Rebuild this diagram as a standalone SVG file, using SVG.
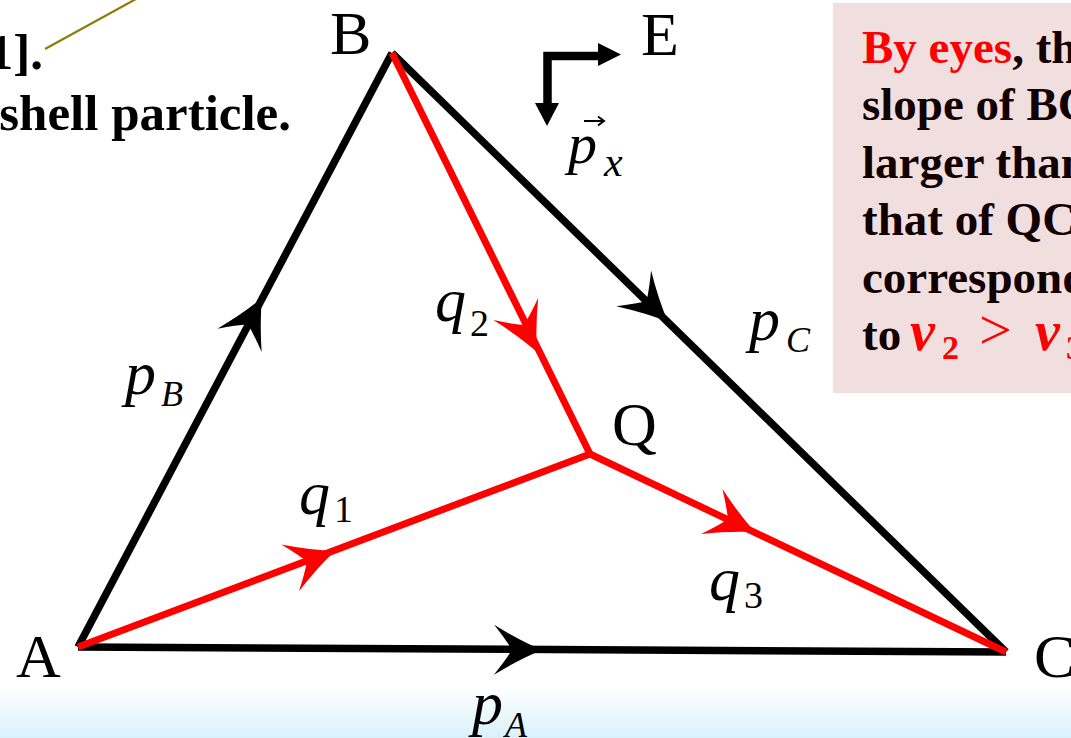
<svg xmlns="http://www.w3.org/2000/svg" width="1071" height="738" viewBox="0 0 1071 738">
  <defs>
    <linearGradient id="bg" x1="0" y1="0" x2="0" y2="1">
      <stop offset="0" stop-color="#ffffff"/>
      <stop offset="1" stop-color="#d9f1fb"/>
    </linearGradient>
    <path id="ah" d="M0,0 Q-22,-9 -48,-25 Q-36,-10 -30,0 Q-36,10 -48,25 Q-22,9 0,0 Z"/>
    <style>
      .lbl { font-family: "Liberation Serif", "Times New Roman", serif; font-size: 62px; fill: #000; }
      .mi { font-family: "Liberation Serif", "Times New Roman", serif; font-style: italic; font-size: 62px; fill: #000; }
      .sub { font-family: "Liberation Serif", "Times New Roman", serif; font-style: italic; font-size: 36px; fill: #000; }
      .subd { font-family: "Liberation Serif", "Times New Roman", serif; font-size: 38px; fill: #000; }
      .bt { font-family: "Liberation Serif", "Times New Roman", serif; font-weight: bold; font-size: 47px; fill: #120000; }
      .cap { font-family: "Liberation Serif", "Times New Roman", serif; font-weight: bold; font-size: 51px; fill: #000; }
      .rv { font-family: "Liberation Serif", "Times New Roman", serif; font-weight: bold; font-style: italic; font-size: 56px; fill: #ff0000; }
      .rs { font-family: "Liberation Serif", "Times New Roman", serif; font-weight: bold; font-size: 34px; fill: #ff0000; }
      .rg { font-family: "Liberation Serif", "Times New Roman", serif; font-size: 58px; fill: #ff0000; }
      .red { fill: #ff0000; }
      .blk { stroke: #000; stroke-width: 7.5; fill: none; }
      .rd { stroke: #ff0000; stroke-width: 7; fill: none; }
    </style>
  </defs>

  <rect x="0" y="0" width="1071" height="738" fill="#ffffff"/>
  <rect x="0" y="686" width="1071" height="52" fill="url(#bg)"/>

  <!-- top-left text fragment and olive leader -->
  <g id="caption">
    <line x1="45" y1="49" x2="136" y2="-1" stroke="#8c7d0a" stroke-width="2.2"/>
    <text class="cap" x="43" y="69" text-anchor="end">1].</text>
    <text class="cap" x="291" y="130" text-anchor="end">shell particle.</text>
  </g>

  <!-- note box -->
  <g id="note">
    <rect x="833" y="3" width="240" height="390" fill="#f1dfe0"/>
    <text class="bt" x="862" y="63"><tspan class="red">By eyes</tspan>, th</text>
    <text class="bt" x="862" y="120">slope of BC</text>
    <text class="bt" x="862" y="178">larger than</text>
    <text class="bt" x="862" y="235">that of QC</text>
    <text class="bt" x="862" y="293">correspond</text>
    <text class="bt" x="862" y="350">to</text>
    <text class="rv" x="910" y="350">v</text>
    <text class="rs" x="942" y="359">2</text>
    <text class="rg" x="979" y="349">&gt;</text>
    <text class="rv" x="1035" y="350">v</text>
    <text class="rs" x="1066" y="359">3</text>
  </g>

  <!-- connectors -->
  <g id="connectors">
    <line class="blk" x1="78" y1="647" x2="392" y2="53"/>
    <line class="blk" x1="392" y1="53" x2="1006" y2="652"/>
    <line class="blk" x1="78" y1="647" x2="1006" y2="652"/>
    <line class="rd" x1="78" y1="647" x2="590" y2="454"/>
    <line class="rd" x1="392" y1="53" x2="590" y2="454"/>
    <line class="rd" x1="590" y1="454" x2="1006" y2="652"/>
    <use href="#ah" transform="translate(542,650) rotate(0.3)" fill="#000"/>
    <use href="#ah" transform="translate(262,298) rotate(-62.1)" fill="#000"/>
    <use href="#ah" transform="translate(668,322) rotate(44.3)" fill="#000"/>
    <use href="#ah" transform="translate(537,352) rotate(63.7)" fill="#ff0000"/>
    <use href="#ah" transform="translate(335,551) rotate(-20.7)" fill="#ff0000"/>
    <use href="#ah" transform="translate(755,532) rotate(25.4)" fill="#ff0000"/>
  </g>

  <!-- vertex labels -->
  <g id="node-A"><text class="lbl" x="16" y="677">A</text></g>
  <g id="node-B"><text class="lbl" x="330" y="54">B</text></g>
  <g id="node-C"><text class="lbl" x="1034" y="677">C</text></g>
  <g id="node-Q"><text class="lbl" x="612" y="445">Q</text></g>
  <g id="node-E"><text class="lbl" x="641" y="55">E</text></g>

  <!-- momentum labels -->
  <g id="label-pB"><text class="mi" x="125" y="394">p</text><text class="sub" x="161" y="406">B</text></g>
  <g id="label-pC"><text class="mi" x="749" y="340">p</text><text class="sub" x="786" y="352">C</text></g>
  <g id="label-pA"><text class="mi" x="472" y="724">p</text><text class="sub" x="505" y="737">A</text></g>
  <g id="label-q1"><text class="mi" x="299" y="514">q</text><text class="subd" x="334" y="522">1</text></g>
  <g id="label-q2"><text class="mi" x="435" y="321">q</text><text class="subd" x="470" y="336">2</text></g>
  <g id="label-q3"><text class="mi" x="709" y="600">q</text><text class="subd" x="744" y="608">3</text></g>

  <!-- axis arrows and p_x -->
  <g id="axes">
    <path d="M547.5,104 L547.5,56 L599,56" fill="none" stroke="#000" stroke-width="8.5"/>
    <polygon points="598,43 621,54.5 598,66" fill="#000"/>
    <polygon points="535,103 559,103 547,126" fill="#000"/>
  </g>
  <g id="label-px">
    <text class="mi" x="568" y="163" style="font-size:58px">p</text>
    <text class="mi" x="604" y="176" style="font-size:42px">x</text>
    <path d="M584,121 L603,121 M598,116.5 L604,121 L598,125.5" fill="none" stroke="#000" stroke-width="2"/>
  </g>
</svg>
